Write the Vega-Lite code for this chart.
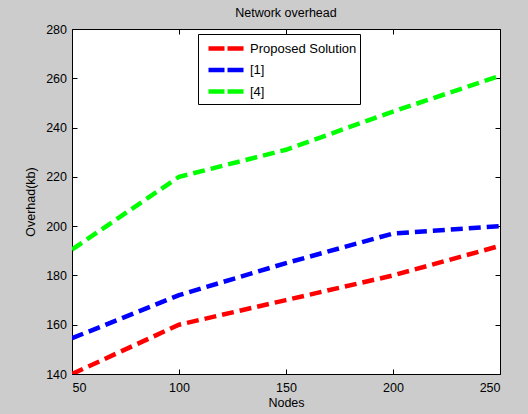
{
  "$schema": "https://vega.github.io/schema/vega-lite/v6.json",
  "autosize": "none",
  "width": 428,
  "height": 345,
  "padding": {"left": 72, "top": 29, "right": 28, "bottom": 40},
  "background": "#cccccc",
  "title": {"text": "Network overhead", "fontSize": 12.5, "fontWeight": "normal", "font": "Liberation Sans", "color": "#000000", "offset": 4},
  "config": {
    "view": {"fill": "#ffffff", "stroke": "#000000", "strokeWidth": 1},
    "font": "Liberation Sans",
    "axis": {"grid": false, "domain": false, "tickColor": "#000000", "tickSize": -5, "labelColor": "#000000", "titleColor": "#000000", "labelFont": "Liberation Sans", "titleFont": "Liberation Sans", "labelFontSize": 12.5, "titleFontSize": 12.5, "titleFontWeight": "normal"}
  },
  "data": {"values": [
    {"series": "Proposed Solution", "nodes": 50, "overhead": 140},
    {"series": "Proposed Solution", "nodes": 100, "overhead": 160},
    {"series": "Proposed Solution", "nodes": 150, "overhead": 170},
    {"series": "Proposed Solution", "nodes": 200, "overhead": 180},
    {"series": "Proposed Solution", "nodes": 250, "overhead": 192},
    {"series": "[1]", "nodes": 50, "overhead": 154.5},
    {"series": "[1]", "nodes": 100, "overhead": 172},
    {"series": "[1]", "nodes": 150, "overhead": 185},
    {"series": "[1]", "nodes": 200, "overhead": 197},
    {"series": "[1]", "nodes": 250, "overhead": 200},
    {"series": "[4]", "nodes": 50, "overhead": 190.5},
    {"series": "[4]", "nodes": 100, "overhead": 220},
    {"series": "[4]", "nodes": 150, "overhead": 231},
    {"series": "[4]", "nodes": 200, "overhead": 246.5},
    {"series": "[4]", "nodes": 250, "overhead": 261}
  ]},
  "layer": [
    {
      "mark": {"type": "line", "strokeWidth": 4.5, "strokeDash": [12, 6], "strokeCap": "butt", "clip": true},
      "encoding": {
        "x": {"field": "nodes", "type": "quantitative", "scale": {"domain": [50, 250], "nice": false, "zero": false},
              "axis": {"orient": "bottom", "values": [50, 100, 150, 200, 250], "title": "Nodes", "labelPadding": 12.5, "titlePadding": 2.5}},
        "y": {"field": "overhead", "type": "quantitative", "scale": {"domain": [140, 280], "nice": false, "zero": false},
              "axis": {"orient": "left", "values": [140, 160, 180, 200, 220, 240, 260, 280], "title": "Overhad(kb)", "labelPadding": 10.5, "titlePadding": 8}},
        "color": {"field": "series", "type": "nominal",
                  "scale": {"domain": ["Proposed Solution", "[1]", "[4]"], "range": ["#ff0000", "#0000ff", "#00ff00"]},
                  "legend": {"title": null, "orient": "none", "legendX": 126, "legendY": 5,
                             "fillColor": "#ffffff", "strokeColor": "#000000", "padding": 3, "rowPadding": 0.5,
                             "symbolType": "M-2,0H2", "symbolSize": 324, "symbolStrokeWidth": 4.5, "symbolDash": [16, 3], "symbolOffset": 14,
                             "labelFontSize": 13, "labelColor": "#000000", "labelFont": "Liberation Sans", "labelOffset": 12, "cornerRadius": 0}},
        "detail": {"field": "series"}
      }
    },
    {
      "mark": {"type": "line", "opacity": 0},
      "encoding": {
        "x": {"field": "nodes", "type": "quantitative", "axis": {"orient": "top", "values": [50, 100, 150, 200, 250], "labels": false, "title": null}},
        "y": {"field": "overhead", "type": "quantitative", "axis": {"orient": "right", "values": [140, 160, 180, 200, 220, 240, 260, 280], "labels": false, "title": null}},
        "detail": {"field": "series"}
      }
    }
  ],
  "resolve": {"axis": {"x": "independent", "y": "independent"}}
}
